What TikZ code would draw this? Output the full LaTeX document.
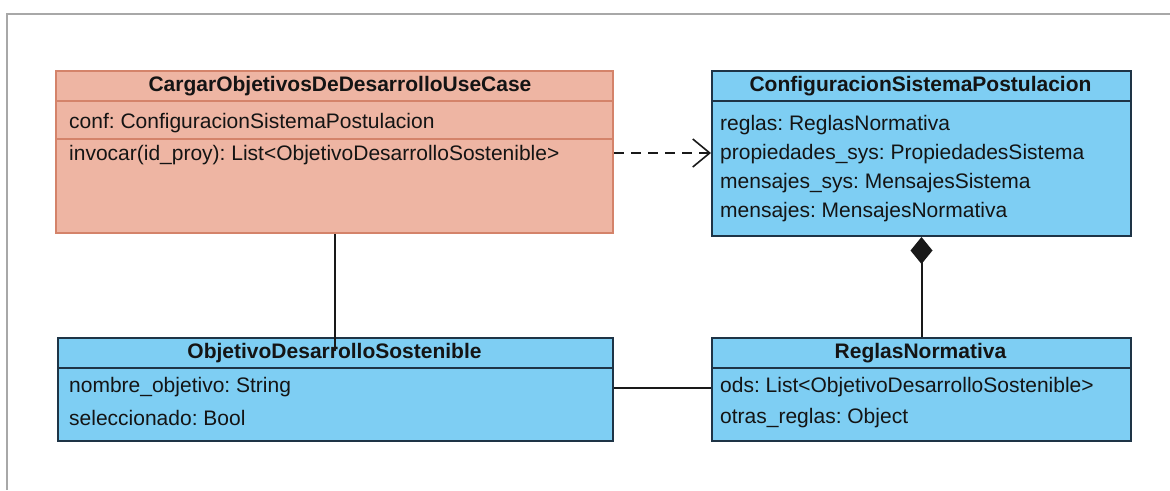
\documentclass[tikz,border=0pt]{standalone}
\usepackage{fontspec}
\setmainfont{Liberation Sans}
\usetikzlibrary{arrows.meta}
\definecolor{salfill}{HTML}{EEB5A3}
\definecolor{saledge}{HTML}{D4836A}
\definecolor{bluefill}{HTML}{7ECEF3}
\definecolor{blueedge}{HTML}{1E3446}
\definecolor{framegray}{HTML}{A8A8A8}
\tikzset{
  ucbox/.style={draw=saledge, fill=salfill, line width=2pt, rectangle, inner sep=0pt, anchor=north west},
  clbox/.style={draw=blueedge, fill=bluefill, line width=2pt, rectangle, inner sep=0pt, anchor=north west},
  ucrule/.style={draw=saledge, line width=1.6pt},
  clrule/.style={draw=blueedge, line width=1.8pt},
  title/.style={font=\fontsize{21}{25}\selectfont\bfseries, text=black!92, inner sep=0pt},
  attr/.style={font=\fontsize{21}{25}\selectfont, text=black!92, inner sep=0pt, anchor=west},
  link/.style={draw=black!90, line width=2pt},
}
\begin{document}
\frenchspacing
\begin{tikzpicture}[x=1pt,y=-1pt]
\useasboundingbox (0,0) rectangle (1170,490);
% outer frame
\draw[framegray, line width=2pt] (7,490) -- (7,14) -- (1171,14);

% use case class
\node[ucbox, minimum width=557pt, minimum height=162pt] (uc) at (55,70) {};
\draw[ucrule] (55,101) -- (612,101);
\draw[ucrule] (55,139) -- (612,139);
\node[title] (ucname) at (340,86) {CargarObjetivosDeDesarrolloUseCase};
\node[attr] (ucconf) at (69,123) {conf: ConfiguracionSistemaPostulacion};
\node[attr] (ucinv) at (69,155) {invocar(id\_proy): List<ObjetivoDesarrolloSostenible>};

% configuration class
\node[clbox, minimum width=419pt, minimum height=165pt] (cfg) at (711,70) {};
\draw[clrule] (711,101) -- (1130,101);
\node[title] (cfgname) at (920.5,86) {ConfiguracionSistemaPostulacion};
\node[attr] (cfg1) at (720,125) {reglas: ReglasNormativa};
\node[attr] (cfg2) at (720,154) {propiedades\_sys: PropiedadesSistema};
\node[attr] (cfg3) at (720,183) {mensajes\_sys: MensajesSistema};
\node[attr] (cfg4) at (720,212) {mensajes: MensajesNormativa};

% objective class
\node[clbox, minimum width=555pt, minimum height=103pt] (ods) at (57,337) {};
\draw[clrule] (57,368) -- (612,368);
\node[title] (odsname) at (334.5,353) {ObjetivoDesarrolloSostenible};
\node[attr] (ods1) at (69,387) {nombre\_objetivo: String};
\node[attr] (ods2) at (69,418) {seleccionado: Bool};

% rules class
\node[clbox, minimum width=419pt, minimum height=103pt] (rn) at (711,337) {};
\draw[clrule] (711,368) -- (1130,368);
\node[title] (rnname) at (920.5,353) {ReglasNormativa};
\node[attr] (rn1) at (720,387) {ods: List<ObjetivoDesarrolloSostenible>};
\node[attr] (rn2) at (720,418) {otras\_reglas: Object};

% connectors
\coordinate (depstart) at (uc.east |- 0,153);
\draw[link, line width=1.6pt, dash pattern=on 10pt off 7pt, -{Straight Barb[length=17pt,width=28pt,line width=1.6pt]}]
  (depstart) -- (cfg.west |- depstart);
\coordinate (odsin) at (335,351);
\draw[link] (uc.south -| odsin) -- (odsin);
\draw[link] (ods.east |- 0,388) -- (rn.west |- 0,388);
\draw[link, -{Diamond[length=27pt,width=22pt]}] (rn.north) -- (cfg.south);
\end{tikzpicture}
\end{document}
